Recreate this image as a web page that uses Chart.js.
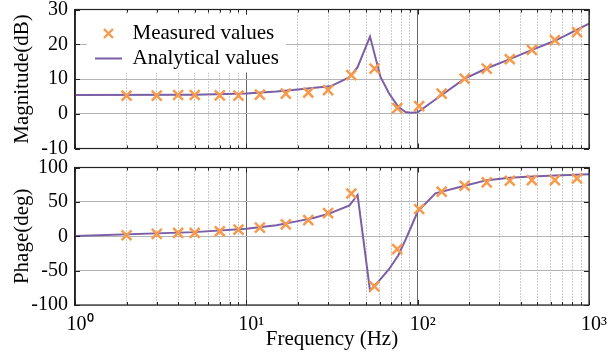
<!DOCTYPE html>
<html>
<head>
<meta charset="utf-8">
<script src="https://cdn.jsdelivr.net/npm/chart.js@4.4.1/dist/chart.umd.min.js"></script>
<style>
  body { margin: 0; background: #fff; }
  #wrap { position: relative; width: 616px; height: 353px; }
  canvas { position: absolute; left: 0; }
</style>
</head>
<body>
<div id="wrap">
  <canvas id="magChart" width="616" height="158" style="top:0"></canvas>
  <canvas id="phaseChart" width="616" height="195" style="top:158px"></canvas>
</div>
<script>
// values
const measuredFreq  = [2, 3, 4, 5, 7, 9, 12, 17, 23, 30, 41, 56, 76, 102, 138, 188, 253, 345, 464, 632, 851];
const measuredMag   = [5.2, 5.2, 5.4, 5.4, 5.3, 5.2, 5.5, 5.8, 6.1, 6.8, 11.1, 13.0, 1.6, 2.2, 5.8, 10.1, 13.0, 15.7, 18.4, 21.2, 23.5];
const measuredPhase = [1.4, 3.4, 4.8, 4.8, 7.2, 9.6, 12.5, 17.3, 23.5, 33.6, 62.2, -73, -18.8, 39.6, 64.8, 73.5, 78.3, 80.7, 81.6, 81.6, 84];

const analyticFreq  = [1, 5, 10, 15, 20, 25, 31, 40, 44.6, 52.7, 60.7, 68, 77, 85, 91, 100, 127, 188, 254, 345, 465, 632, 1000];
const analyticMag   = [5.4, 5.5, 5.8, 6.4, 7.0, 7.5, 7.9, 10.5, 13.4, 22.2, 10.6, 5.9, 2.0, 0.5, 0.3, 0.4, 4.1, 10.1, 13.1, 15.7, 18.4, 21.0, 25.9];
const analyticPhase = [0.5, 6, 11, 16, 22, 27, 33.6, 45, 60, -79, -62.4, -48, -28, -5, 12, 36, 62.4, 73.5, 81.6, 85, 87, 88.5, 90.3];

const decadeTicks = [1, 10, 100, 1000];
const minorTicks = [2, 3, 4, 5, 6, 7, 8, 9, 20, 30, 40, 50, 60, 70, 80, 90, 200, 300, 400, 500, 600, 700, 800, 900];
const magTicks = [-10, 0, 10, 20, 30];
const phaseTicks = [-100, -50, 0, 50, 100];

const serif = "'Liberation Serif', 'Times New Roman', serif";
const orange = '#f79a4c';
const purple = '#7b5fa6';
const frameColor = '#222';
const supDigits = ['\u2070', '\u00b9', '\u00b2', '\u00b3'];

function pts(xs, ys) {
  return xs.map((x, i) => ({x: x, y: ys[i]}));
}

// small x for the legend entry
const legendCross = document.createElement('canvas');
legendCross.width = 11;
legendCross.height = 11;
(function () {
  const c = legendCross.getContext('2d');
  c.strokeStyle = orange;
  c.lineWidth = 2.4;
  c.beginPath();
  c.moveTo(1, 1); c.lineTo(10, 10);
  c.moveTo(10, 1); c.lineTo(1, 10);
  c.stroke();
})();

// box round the plot with inward ticks, like the original
const framePlugin = {
  id: 'plotFrame',
  afterDatasetsDraw(chart) {
    const a = chart.chartArea;
    const ctx = chart.ctx;
    const sx = chart.scales.x, sy = chart.scales.y;
    ctx.save();
    ctx.strokeStyle = frameColor;
    ctx.lineWidth = 1.2;
    ctx.strokeRect(a.left, a.top, a.right - a.left, a.bottom - a.top);
    ctx.lineWidth = 1;
    ctx.beginPath();
    decadeTicks.concat(minorTicks).forEach(v => {
      const px = Math.round(sx.getPixelForValue(v)) + 0.5;
      const len = decadeTicks.includes(v) ? 5 : 3;
      ctx.moveTo(px, a.top); ctx.lineTo(px, a.top + len);
      ctx.moveTo(px, a.bottom); ctx.lineTo(px, a.bottom - len);
    });
    sy.ticks.forEach(t => {
      const py = Math.round(sy.getPixelForValue(t.value)) + 0.5;
      ctx.moveTo(a.left, py); ctx.lineTo(a.left + 5, py);
      ctx.moveTo(a.right, py); ctx.lineTo(a.right - 5, py);
    });
    ctx.stroke();
    ctx.restore();
  }
};

const legendBoxPlugin = {
  id: 'legendBox',
  afterLayout(chart) {
    const lg = chart.legend;
    if (!lg || !lg.options.display) return;
    lg.left = chart.chartArea.left + 16;
    lg.top = chart.chartArea.top + 9.5;
    lg.bottom = chart.chartArea.bottom;
  },
  beforeDatasetsDraw(chart) {
    const lg = chart.legend;
    if (!lg || !lg.options.display || !lg.columnSizes) return;
    const pad = lg.options.labels.padding;
    const col = lg.columnSizes[0];
    const ctx = chart.ctx;
    ctx.save();
    ctx.fillStyle = '#fff';
    ctx.fillRect(lg.left + pad - 8, lg.top + pad - 8.5, col.width + 15, col.height + 8);
    ctx.restore();
    lg.draw();
  }
};

function makeChart(id, opts) {
  return new Chart(id, {
    type: 'line',
    data: {
      datasets: [{
        label: 'Measured values',
        data: pts(measuredFreq, opts.measured),
        showLine: false,
        pointStyle: 'crossRot',
        pointRadius: 7,
        pointBorderWidth: 2.5,
        pointBorderColor: orange,
        pointBackgroundColor: orange,
        borderColor: orange,
        backgroundColor: orange
      }, {
        label: 'Analytical values',
        data: pts(analyticFreq, opts.analytic),
        borderColor: purple,
        backgroundColor: purple,
        borderWidth: 2,
        pointRadius: 0,
        tension: 0,
        fill: false,
        pointStyle: 'line'
      }]
    },
    options: {
      responsive: false,
      animation: false,
      events: [],
      devicePixelRatio: 1,
      layout: {padding: {top: opts.padTop, right: 27, left: 0, bottom: 0}},
      plugins: {
        tooltip: {enabled: false},
        legend: {
          display: opts.legend,
          position: 'chartArea',
          align: 'start',
          labels: {
            usePointStyle: true,
            pointStyleWidth: 27,
            boxHeight: 10,
            padding: 4,
            color: '#000',
            font: {family: serif, size: 21},
            generateLabels(chart) {
              const items = Chart.defaults.plugins.legend.labels.generateLabels(chart);
              items[0].pointStyle = legendCross;
              return items;
            }
          }
        }
      },
      scales: {
        x: {
          type: 'logarithmic',
          min: 1,
          max: 1000,
          afterBuildTicks: s => { s.ticks = decadeTicks.map(v => ({value: v, major: true})); },
          grid: {color: '#666', lineWidth: 1, drawTicks: false},
          border: {display: false},
          ticks: {
            display: opts.showX,
            autoSkip: false,
            maxRotation: 0,
            padding: 8,
            labelOffset: 5,
            color: '#000',
            font: {family: serif, size: 20},
            callback: v => '10' + supDigits[Math.round(Math.log10(v))]
          },
          title: {
            display: opts.showX,
            text: 'Frequency (Hz)',
            color: '#000',
            font: {family: serif, size: 21},
            padding: {top: 0, bottom: 1}
          },
          afterFit: s => { s.height = opts.xHeight; s.paddingLeft = 0; s.paddingRight = 0; }
        },
        xMinor: {
          type: 'logarithmic',
          position: 'bottom',
          min: 1,
          max: 1000,
          afterBuildTicks: s => { s.ticks = minorTicks.map(v => ({value: v})); },
          grid: {color: '#9a9a9a', lineWidth: 1, drawTicks: false},
          border: {display: false, dash: [1, 2]},
          ticks: {display: false},
          afterFit: s => { s.height = 0; s.paddingLeft = 0; s.paddingRight = 0; }
        },
        y: {
          min: opts.yMin,
          max: opts.yMax,
          afterBuildTicks: s => { s.ticks = opts.yTicks.map(v => ({value: v})); },
          grid: {color: '#b4b4b4', lineWidth: 1, drawTicks: false},
          border: {color: frameColor, width: 1.2},
          ticks: {padding: 7, color: '#000', font: {family: serif, size: 20}},
          title: {
            display: true,
            text: opts.yTitle,
            color: '#000',
            font: {family: serif, size: 21},
            padding: {top: 10, bottom: 0}
          },
          afterFit: s => { s.width = 75; s.paddingTop = 0; s.paddingBottom = 0; }
        }
      }
    },
    plugins: [legendBoxPlugin, framePlugin]
  });
}

makeChart('magChart', {
  measured: measuredMag,
  analytic: analyticMag,
  yMin: -10, yMax: 30, yTicks: magTicks,
  yTitle: 'Magnitude(dB)',
  legend: true,
  showX: false,
  xHeight: 7,
  padTop: 9
});

makeChart('phaseChart', {
  measured: measuredPhase,
  analytic: analyticPhase,
  yMin: -100, yMax: 100, yTicks: phaseTicks,
  yTitle: 'Phage(deg)',
  legend: false,
  showX: true,
  xHeight: 48,
  padTop: 8
});
</script>
</body>
</html>
